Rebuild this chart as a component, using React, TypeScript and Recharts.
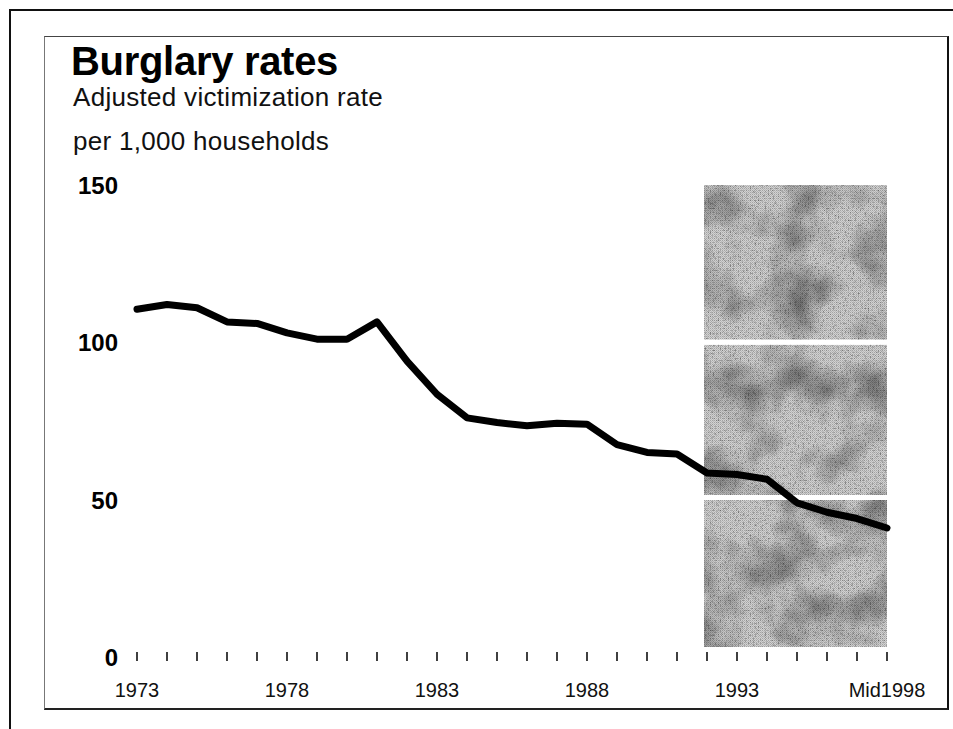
// modules
import { LineChart, Line, XAxis, YAxis, ReferenceArea } from "recharts";


// data
const years = [
  1973, 1974, 1975, 1976, 1977, 1978, 1979, 1980, 1981, 1982, 1983, 1984, 1985,
  1986, 1987, 1988, 1989, 1990, 1991, 1992, 1993, 1994, 1995, 1996, 1997, 1998,
];
const burglaryRates = [
  110.5, 112, 111, 106.5, 106, 103, 101, 101, 106.5, 94, 83.5, 76, 74.5,
  73.5, 74.3, 74, 67.5, 65, 64.5, 58.5, 58, 56.5, 49, 46, 44, 41,
];
const yTicks = [0, 50, 100, 150];
const labelledYears = [1973, 1978, 1983, 1988, 1993, 1998];
const labelledYearTexts = ["1973", "1978", "1983", "1988", "1993", "Mid1998"];

// shaded block (projection period)
const shadeFrom = 1991.9;
const shadeTo = 1998;
const shadeBands = [
  [3.2, 49.9],
  [51.5, 99.2],
  [100.8, 150],
];

const chartData = years.map((year, i) => ({ year, rate: burglaryRates[i] }));

const FONT = '"Liberation Sans", Arial, sans-serif';


function YearTick({ x, y, payload }: any) {
  const idx = labelledYears.indexOf(payload.value);
  return (
    <g>
      <line x1={x} x2={x} y1={y - 5} y2={y + 4} stroke="#000" strokeWidth={1.5} />
      {idx >= 0 && (
        <text
          x={x}
          y={y + 40}
          textAnchor="middle"
          fontFamily={FONT}
          fontSize={20}
          fill="#111"
        >
          {labelledYearTexts[idx]}
        </text>
      )}
    </g>
  );
}

function RateTick({ x, y, payload }: any) {
  return (
    <text
      x={x}
      y={y + 9}
      textAnchor="end"
      fontFamily={FONT}
      fontSize={24}
      fontWeight="bold"
      fill="#000"
    >
      {payload.value}
    </text>
  );
}


export default function App() {
  return (
    <div
      style={{
        position: "absolute",
        left: 0,
        top: 0,
        width: 953,
        height: 729,
        background: "#fff",
        overflow: "hidden",
      }}
    >
      {/* outer frame (top + left edges only visible) */}
      <div style={{ position: "absolute", left: 9, top: 9, width: 944, height: 2, background: "#111" }} />
      <div style={{ position: "absolute", left: 9, top: 9, width: 2, height: 720, background: "#111" }} />

      {/* inner frame */}
      <div
        style={{
          position: "absolute",
          left: 44,
          top: 36,
          width: 902,
          height: 671,
          borderTop: "1.5px solid #444",
          borderLeft: "1px solid #777",
          borderRight: "2px solid #111",
          borderBottom: "2px solid #222",
        }}
      />

      <svg
        width={953}
        height={729}
        style={{ position: "absolute", left: 0, top: 0 }}
      >
        <text x={71} y={75} fontFamily={FONT} fontSize={40} fontWeight="bold" fill="#000" letterSpacing={-0.3}>
          Burglary rates
        </text>
        <text x={73} y={106} fontFamily={FONT} fontSize={26} fill="#111" letterSpacing={0.3}>
          Adjusted victimization rate
        </text>
        <text x={73} y={150} fontFamily={FONT} fontSize={26} fill="#111" letterSpacing={0.3}>
          per 1,000 households
        </text>
      </svg>

      <div style={{ position: "absolute", left: 0, top: 0 }}>
        <LineChart
          width={953}
          height={729}
          data={chartData}
          margin={{ top: 185, right: 66, bottom: 22, left: 77 }}
        >
          <defs>
            <pattern id="dither" width="2" height="2" patternUnits="userSpaceOnUse">
              <rect width="2" height="2" fill="#d2d2d2" />
              <rect x="0" y="0" width="1" height="1" fill="#a4a4a4" />
              <rect x="1" y="1" width="1" height="1" fill="#bababa" />
            </pattern>
            <filter id="blotch" x="0%" y="0%" width="100%" height="100%" colorInterpolationFilters="sRGB">
              <feTurbulence type="fractalNoise" baseFrequency="0.022" numOctaves="3" seed="11" result="coarse" />
              <feColorMatrix
                in="coarse"
                type="matrix"
                values="1 0 0 0 0  1 0 0 0 0  1 0 0 0 0  0 0 0 0 1"
                result="coarseGray"
              />
              <feComponentTransfer in="coarseGray" result="coarseTone">
                <feFuncR type="linear" slope="0.9" intercept="0.47" />
                <feFuncG type="linear" slope="0.9" intercept="0.47" />
                <feFuncB type="linear" slope="0.9" intercept="0.47" />
              </feComponentTransfer>
              <feTurbulence type="fractalNoise" baseFrequency="0.6" numOctaves="1" seed="3" result="fine" />
              <feColorMatrix
                in="fine"
                type="matrix"
                values="1 0 0 0 0  1 0 0 0 0  1 0 0 0 0  0 0 0 0 1"
                result="fineGray"
              />
              <feComponentTransfer in="fineGray" result="fineTone">
                <feFuncR type="linear" slope="1.5" intercept="0.32" />
                <feFuncG type="linear" slope="1.5" intercept="0.32" />
                <feFuncB type="linear" slope="1.5" intercept="0.32" />
              </feComponentTransfer>
              <feBlend in="SourceGraphic" in2="coarseTone" mode="multiply" result="b1" />
              <feBlend in="b1" in2="fineTone" mode="multiply" result="b2" />
              <feComposite in="b2" in2="SourceAlpha" operator="in" />
            </filter>
          </defs>
          <XAxis
            dataKey="year"
            type="number"
            domain={[1973, 1998]}
            ticks={years}
            interval={0}
            axisLine={false}
            tickLine={false}
            tickSize={0}
            tickMargin={0}
            height={50}
            tick={<YearTick />}
          />
          <YAxis
            type="number"
            domain={[0, 150]}
            ticks={yTicks}
            axisLine={false}
            tickLine={false}
            tickSize={0}
            tickMargin={19}
            width={60}
            tick={<RateTick />}
          />
          {shadeBands.map(([lo, hi], i) => (
            <ReferenceArea
              key={i}
              x1={shadeFrom}
              x2={shadeTo}
              y1={lo}
              y2={hi}
              fill="url(#dither)"
              fillOpacity={1}
              stroke="none"
              filter="url(#blotch)"
              ifOverflow="extendDomain"
            />
          ))}
          <Line
            type="linear"
            dataKey="rate"
            stroke="#000"
            strokeWidth={7}
            strokeLinejoin="round"
            strokeLinecap="round"
            dot={false}
            activeDot={false}
            isAnimationActive={false}
          />
        </LineChart>
      </div>
    </div>
  );
}
